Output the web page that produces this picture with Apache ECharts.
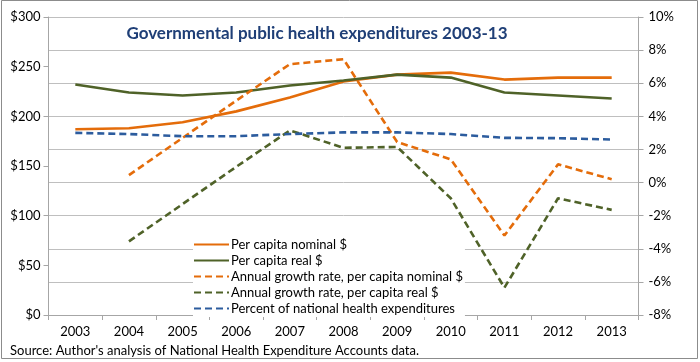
<!DOCTYPE html>
<html>
<head>
<meta charset="utf-8">
<script src="https://cdn.jsdelivr.net/npm/echarts@6/dist/echarts.min.js"></script>
<style>html,body{margin:0;padding:0;background:#fff}#c{width:700px;height:362px}</style>
</head>
<body>
<div id="c"></div>
<script>
var years = ['2003','2004','2005','2006','2007','2008','2009','2010','2011','2012','2013'];
var perCapitaNominal = [187, 188, 194, 205, 219, 235, 242, 244, 237, 239, 239];
var perCapitaReal = [232, 224, 221, 224, 231, 236, 242, 239, 224, 221, 218];
var growthNominal = [null, 0.45, 2.7, 4.95, 7.15, 7.45, 2.45, 1.4, -3.2, 1.1, 0.2];
var growthReal = [null, -3.55, -1.3, 0.95, 3.15, 2.1, 2.15, -0.95, -6.35, -0.95, -1.65];
var pctNational = [3.0, 2.93, 2.8, 2.8, 2.93, 3.03, 3.03, 2.93, 2.7, 2.68, 2.6];
var leftTicks = [0, 300, 50];
var rightTicks = [-8, 10, 2];

var FONT = 'Lato, "Open Sans", sans-serif';
var ORANGE = '#E46C0A', GREEN = '#4F6228', BLUE = '#2C5C9E';
var chart = echarts.init(document.getElementById('c'), null, {renderer: 'canvas'});
function ser(name, data, color, dashed, axis) {
  return {
    name: name, type: 'line', data: data, yAxisIndex: axis,
    symbol: 'none', smooth: false, connectNulls: false,
    lineStyle: {color: color, width: 2.6, type: dashed ? [7, 4] : 'solid', cap: 'butt'},
    itemStyle: {color: color},
    z: 3
  };
}
chart.setOption({
  animation: false,
  backgroundColor: '#fff',
  graphic: [
    {type: 'rect', shape: {x: 1.5, y: 0.5, width: 696, height: 358}, style: {fill: null, stroke: '#8c8c8c', lineWidth: 1}, z: -1},
    {type: 'text', left: 10, top: 344, style: {text: "Source: Author's analysis of National Health Expenditure Accounts data.", fill: '#000', font: '13px ' + FONT}}
  ],
  title: {
    text: 'Governmental public health expenditures 2003-13',
    left: 312, textAlign: 'center', top: 20,
    textStyle: {color: '#1F3F77', fontSize: 17, fontWeight: 'bold', fontFamily: FONT}
  },
  legend: {
    orient: 'vertical', left: 193, top: 236,
    itemWidth: 35, itemHeight: 12, itemGap: 3,
    backgroundColor: '#fff', padding: [2, 2, 2, 0],
    itemStyle: {opacity: 0},
    textStyle: {fontSize: 13, color: '#000', fontFamily: FONT, padding: [0, 0, 0, -3]},
    data: ['Per capita nominal $', 'Per capita real $', 'Annual growth rate, per capita nominal $', 'Annual growth rate, per capita real $', 'Percent of national health expenditures']
  },
  grid: {left: 48.5, right: 61.5, top: 17, bottom: 47, containLabel: false},
  xAxis: {
    type: 'category', data: years, boundaryGap: true,
    axisLine: {lineStyle: {color: '#a6a6a6'}},
    axisTick: {show: true, lineStyle: {color: '#a6a6a6'}, length: 5, alignWithLabel: false},
    axisLabel: {color: '#000', fontSize: 13, fontFamily: FONT, margin: 10}
  },
  yAxis: [
    {
      type: 'value', min: leftTicks[0], max: leftTicks[1], interval: leftTicks[2],
      axisLine: {show: true, lineStyle: {color: '#a6a6a6'}},
      axisTick: {show: true, length: 5, lineStyle: {color: '#a6a6a6'}},
      splitLine: {show: false},
      axisLabel: {color: '#000', fontSize: 13, fontFamily: FONT, margin: 8, formatter: function (v) { return '$' + v; }}
    },
    {
      type: 'value', min: rightTicks[0], max: rightTicks[1], interval: rightTicks[2],
      position: 'right',
      axisLine: {show: true, lineStyle: {color: '#a6a6a6'}},
      axisTick: {show: true, length: 5, lineStyle: {color: '#a6a6a6'}},
      splitLine: {show: true, lineStyle: {color: '#bfbfbf', width: 1}},
      axisLabel: {color: '#000', fontSize: 13, fontFamily: FONT, margin: 10, formatter: function (v) { return v + '%'; }}
    }
  ],
  series: [
    ser('Per capita nominal $', perCapitaNominal, ORANGE, false, 0),
    ser('Per capita real $', perCapitaReal, GREEN, false, 0),
    ser('Annual growth rate, per capita nominal $', growthNominal, ORANGE, true, 1),
    ser('Annual growth rate, per capita real $', growthReal, GREEN, true, 1),
    ser('Percent of national health expenditures', pctNational, BLUE, true, 1)
  ]
});
</script>
</body>
</html>
